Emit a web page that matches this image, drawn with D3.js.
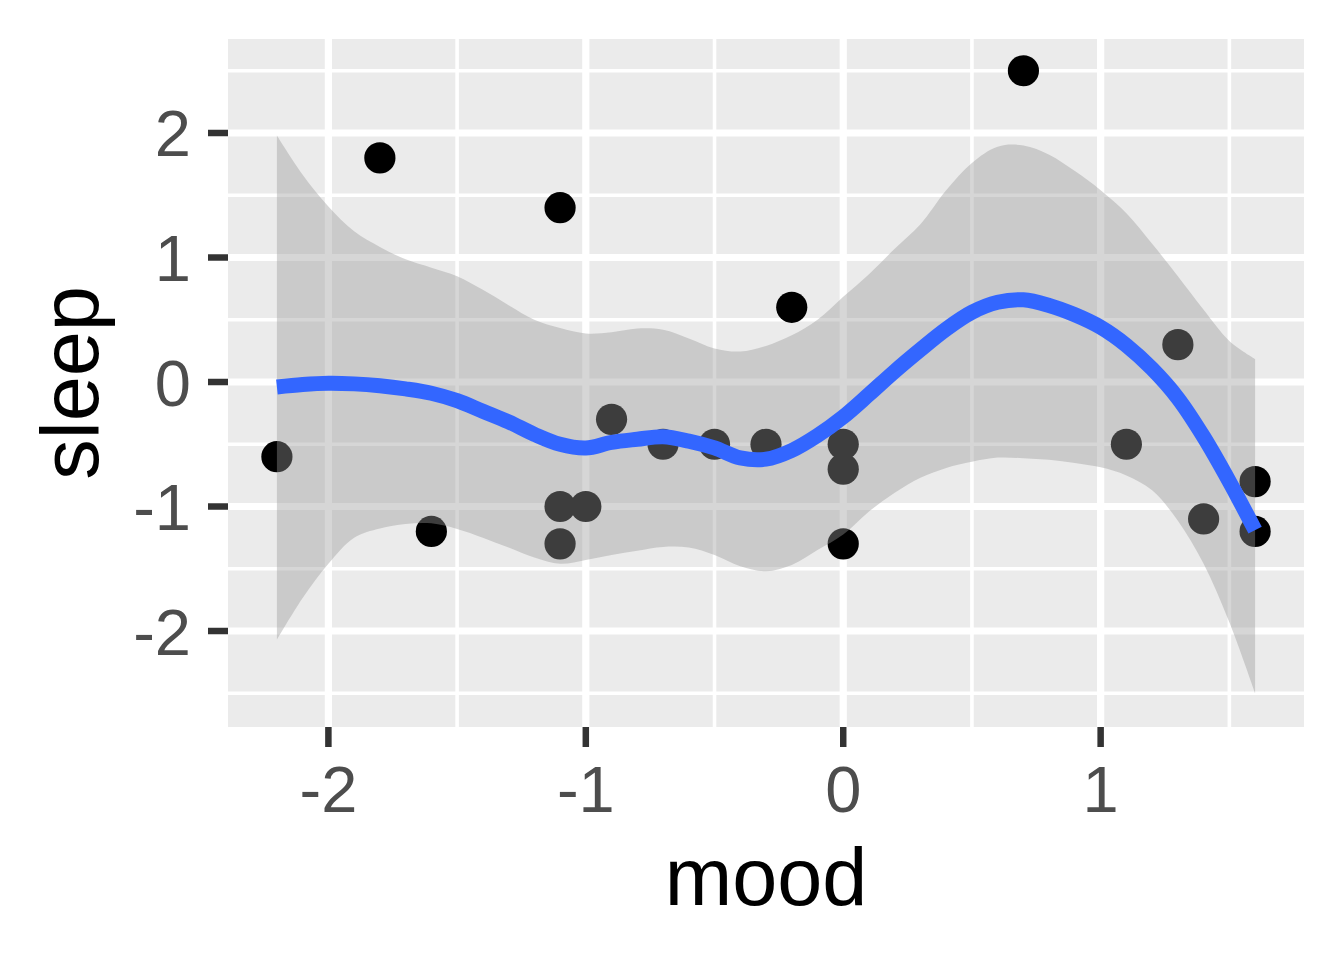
<!DOCTYPE html>
<html>
<head>
<meta charset="utf-8">
<script src="https://cdn.jsdelivr.net/npm/d3@7"></script>
<style>
    body { margin: 0; background: #ffffff; }
    svg text { font-family: "Liberation Sans", Arial, sans-serif; }
    .tick-label { fill: #4d4d4d; font-size: 65px; }
    .axis-title { fill: #000000; font-size: 81px; }
</style>
</head>
<body>
<svg id="chart" width="1344" height="960"></svg>
<script>
// observed points
const mood  = [-2.2, -1.8, -1.6, -1.1, -1.1, -1.1, -1.0, -0.9, -0.7, -0.5, -0.3, -0.2, 0.0, 0.0, 0.0, 0.7, 1.1, 1.3, 1.4, 1.6, 1.6]
const sleep = [-0.6, 1.8, -1.2, 1.4, -1.0, -1.3, -1.0, -0.3, -0.5, -0.5, -0.5, 0.6, -0.5, -0.7, -1.3, 2.5, -0.5, 0.3, -1.1, -0.8, -1.2]

// loess fit and 95% band
const smoothX = [-2.2, -2.1, -2.0, -1.9, -1.8, -1.7, -1.6, -1.5, -1.4, -1.3, -1.2, -1.1, -1.0, -0.9, -0.8, -0.7, -0.6, -0.5, -0.4, -0.3,
                 -0.2, -0.1, 0.0, 0.1, 0.2, 0.3, 0.4, 0.5, 0.6, 0.7, 0.8, 0.9, 1.0, 1.1, 1.2, 1.3, 1.4, 1.5, 1.6]
const fitY    = [-0.04, -0.02, -0.01, -0.015, -0.03, -0.055, -0.09, -0.15, -0.235, -0.32, -0.42, -0.50, -0.53, -0.485, -0.46, -0.44, -0.475, -0.53, -0.61, -0.62,
                 -0.55, -0.43, -0.28, -0.10, 0.086, 0.26, 0.425, 0.56, 0.64, 0.66, 0.615, 0.54, 0.44, 0.295, 0.106, -0.13, -0.44, -0.80, -1.19]
const upperY  = [1.98, 1.665, 1.41, 1.21, 1.085, 0.985, 0.918, 0.85, 0.74, 0.617, 0.50, 0.433, 0.39, 0.40, 0.43, 0.42, 0.35, 0.27, 0.245, 0.29,
                 0.375, 0.50, 0.685, 0.866, 1.07, 1.267, 1.54, 1.76, 1.89, 1.9, 1.826, 1.694, 1.54, 1.355, 1.11, 0.85, 0.58, 0.33, 0.185]
const lowerY  = [-2.07, -1.735, -1.46, -1.25, -1.176, -1.14, -1.135, -1.18, -1.25, -1.33, -1.41, -1.46, -1.43, -1.39, -1.355, -1.325, -1.33, -1.39, -1.48, -1.52,
                 -1.47, -1.35, -1.225, -1.04, -0.89, -0.77, -0.69, -0.64, -0.607, -0.612, -0.625, -0.65, -0.685, -0.75, -0.87, -1.115, -1.46, -1.93, -2.5]

const xMajor = [-2, -1, 0, 1]
const xMinor = [-1.5, -0.5, 0.5, 1.5]
const yMajor = [-2, -1, 0, 1, 2]
const yMinor = [-2.5, -1.5, -0.5, 0.5, 1.5, 2.5]

function render_plot()
{
    let svg = d3.select("#chart")
    let panel = {left: 228, right: 1304, top: 39, bottom: 727}

    let x = d3.scaleLinear()
        .domain([-2.39, 1.79])
        .range([panel.left, panel.right])
    let y = d3.scaleLinear()
        .domain([-2.771, 2.755])
        .range([panel.bottom, panel.top])

    svg.append("rect")
        .attr("x", panel.left)
        .attr("y", panel.top)
        .attr("width", panel.right - panel.left)
        .attr("height", panel.bottom - panel.top)
        .style("fill", "#ebebeb")

    let grid = svg.append("g").style("stroke", "#ffffff")
    grid.selectAll(".vminor").data(xMinor).enter().append("line")
        .attr("x1", d => x(d)).attr("x2", d => x(d))
        .attr("y1", panel.top).attr("y2", panel.bottom)
        .style("stroke-width", 3.6)
    grid.selectAll(".hminor").data(yMinor).enter().append("line")
        .attr("x1", panel.left).attr("x2", panel.right)
        .attr("y1", d => y(d)).attr("y2", d => y(d))
        .style("stroke-width", 3.6)
    grid.selectAll(".vmajor").data(xMajor).enter().append("line")
        .attr("x1", d => x(d)).attr("x2", d => x(d))
        .attr("y1", panel.top).attr("y2", panel.bottom)
        .style("stroke-width", 7.2)
    grid.selectAll(".hmajor").data(yMajor).enter().append("line")
        .attr("x1", panel.left).attr("x2", panel.right)
        .attr("y1", d => y(d)).attr("y2", d => y(d))
        .style("stroke-width", 7.2)

    // points go under the ribbon, like ggplot draws them
    svg.selectAll("circle")
        .data(d3.zip(mood, sleep))
        .enter()
        .append("circle")
            .attr("cx", d => x(d[0]))
            .attr("cy", d => y(d[1]))
            .attr("r", 15.6)
            .style("fill", "#000000")

    let band = d3.zip(smoothX, lowerY, upperY, fitY)

    let area = d3.area()
        .x(d => x(d[0]))
        .y0(d => y(d[1]))
        .y1(d => y(d[2]))
        .curve(d3.curveCatmullRom.alpha(0.5))
    svg.append("path")
        .datum(band)
        .attr("d", area)
        .style("fill", "#999999")
        .style("fill-opacity", 0.4)

    let line = d3.line()
        .x(d => x(d[0]))
        .y(d => y(d[3]))
        .curve(d3.curveCatmullRom.alpha(0.5))
    svg.append("path")
        .datum(band)
        .attr("d", line)
        .style("fill", "none")
        .style("stroke", "#3366ff")
        .style("stroke-width", 15)
        .style("stroke-linecap", "butt")
        .style("stroke-linejoin", "round")

    // ticks
    let ticks = svg.append("g").style("stroke", "#333333").style("stroke-width", 6.5)
    ticks.selectAll(".xt").data(xMajor).enter().append("line")
        .attr("x1", d => x(d)).attr("x2", d => x(d))
        .attr("y1", panel.bottom).attr("y2", panel.bottom + 20)
    ticks.selectAll(".yt").data(yMajor).enter().append("line")
        .attr("x1", panel.left - 20).attr("x2", panel.left)
        .attr("y1", d => y(d)).attr("y2", d => y(d))

    svg.selectAll(".xlab")
        .data(xMajor)
        .enter()
        .append("text")
            .attr("class", "tick-label")
            .attr("x", d => x(d))
            .attr("y", 812)
            .attr("text-anchor", "middle")
            .text(d => d)
    svg.selectAll(".ylab")
        .data(yMajor)
        .enter()
        .append("text")
            .attr("class", "tick-label")
            .attr("x", 191)
            .attr("y", d => y(d) + 23.5)
            .attr("text-anchor", "end")
            .text(d => d)

    svg.append("text")
        .attr("class", "axis-title")
        .attr("x", (panel.left + panel.right) / 2)
        .attr("y", 905)
        .attr("text-anchor", "middle")
        .text("mood")
    svg.append("text")
        .attr("class", "axis-title")
        .attr("transform", `translate(98, ${(panel.top + panel.bottom) / 2}) rotate(-90)`)
        .attr("text-anchor", "middle")
        .text("sleep")
}

render_plot()
</script>
</body>
</html>
